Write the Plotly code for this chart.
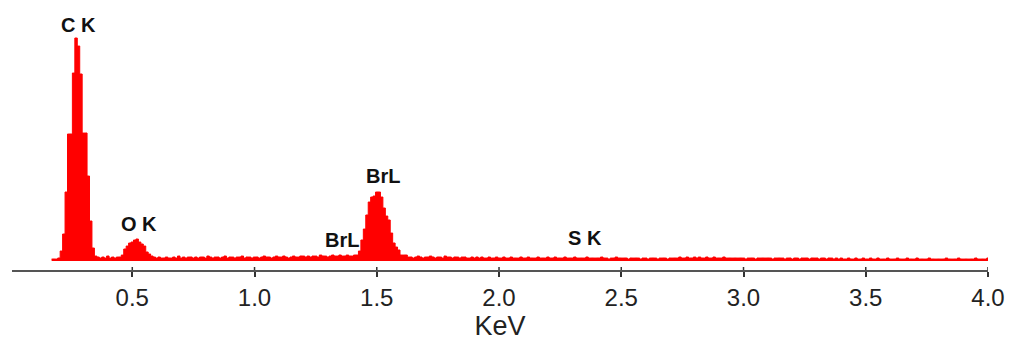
import numpy as np
import plotly.graph_objects as go

# Energy grid (keV): channels of 0.01 keV starting at 0.17 keV
E_START = 0.17
E_STEP = 0.01

# Counts (arbitrary units), 0.17 - 0.99 keV
counts_0 = [
    2, 2, 2, 3,
    10, 27, 69, 127, 127, 188, 223, 215, 187, 128,
    128, 85, 40, 13, 5, 4, 3, 4, 3, 5,
    3, 4, 3, 4, 4, 6, 12, 15, 18, 19,
    21, 22, 19, 17, 15, 9, 7, 5, 4, 3,
    4, 3, 3, 4, 3, 3, 4, 3, 5, 3,
    4, 3, 4, 4, 3, 4, 3, 4, 4, 3,
    5, 4, 3, 4, 4, 3, 4, 5, 3, 4,
    4, 3, 4, 4, 5, 3, 4, 4, 3,
]
# 1.00 - 1.99 keV
counts_1 = [
    4, 4, 3, 4, 5, 4, 4, 3, 4, 5,
    4, 4, 5, 4, 3, 4, 5, 4, 4, 5,
    5, 4, 5, 4, 5, 5, 4, 6, 5, 5,
    4, 5, 6, 5, 5, 6, 5, 5, 6, 5,
    5, 6, 6, 10, 21, 32, 46, 59, 64, 65,
    69, 69, 64, 53, 45, 41, 28, 18, 14, 11,
    6, 6, 6, 4, 4, 3, 4, 5, 4, 3,
    4, 4, 5, 4, 3, 4, 4, 3, 5, 4,
    4, 3, 4, 4, 3, 4, 4, 3, 3, 4,
    3, 4, 3, 4, 3, 3, 4, 3, 3, 4,
]
# 2.00 - 2.99 keV
counts_2 = [
    3, 3, 4, 3, 3, 4, 3, 3, 3, 4,
    3, 3, 4, 3, 3, 3, 4, 3, 3, 3,
    4, 3, 3, 4, 3, 3, 3, 4, 3, 3,
    3, 4, 3, 3, 3, 3, 4, 3, 3, 3,
    3, 3, 4, 3, 3, 2, 3, 3, 4, 3,
    3, 3, 3, 2, 3, 3, 3, 3, 2, 3,
    3, 2, 3, 3, 3, 2, 3, 3, 3, 2,
    3, 3, 3, 3, 4, 3, 3, 4, 3, 3,
    4, 3, 4, 3, 3, 4, 3, 3, 4, 3,
    3, 3, 4, 3, 3, 3, 3, 3, 3, 3,
]
# 3.00 - 4.00 keV
counts_3 = [
    3, 2, 3, 3, 3, 2, 3, 3, 3, 3,
    3, 3, 2, 3, 3, 3, 3, 2, 3, 3,
    2, 3, 3, 2, 3, 3, 3, 2, 3, 3,
    3, 2, 3, 3, 2, 3, 3, 2, 3, 2,
    3, 2, 2, 3, 2, 2, 3, 2, 2, 3,
    2, 2, 3, 2, 2, 3, 2, 2, 2, 3,
    2, 2, 2, 3, 2, 2, 2, 3, 2, 2,
    2, 3, 2, 2, 2, 2, 3, 2, 2, 2,
    2, 2, 2, 3, 2, 2, 2, 2, 3, 2,
    2, 2, 2, 2, 2, 3, 2, 2, 2, 2,
    3,
]

# Peak labels
label_text = ["C K", "O K", "BrL", "BrL", "S K"]
label_energy = [0.282, 0.527, 1.525, 1.356, 2.350]
label_level = [236.5, 37, 85.5, 21, 23]

# Axis ticks
tick_vals = [0.5, 1.0, 1.5, 2.0, 2.5, 3.0, 3.5, 4.0]
tick_text = ["0.5", "1.0", "1.5", "2.0", "2.5", "3.0", "3.5", "4.0"]

counts = counts_0 + counts_1 + counts_2 + counts_3
energy = np.round(E_START + E_STEP * np.arange(len(counts)), 2)

fig = go.Figure()
fig.add_trace(go.Scatter(
    x=energy, y=counts, mode="lines", line_shape="hvh",
    line=dict(color="#ff0000", width=1),
    fill="tozeroy", fillcolor="#ff0000",
    hoverinfo="x+y", showlegend=False,
))

for t, e, lv in zip(label_text, label_energy, label_level):
    fig.add_annotation(
        x=e, y=lv, text=t, showarrow=False, xref="x", yref="y",
        font=dict(family="Liberation Sans, Arial", size=20, color="#111111", weight="bold"),
        xanchor="center", yanchor="middle",
    )

# small upward part of the ticks (ticks cross the axis line)
for v in tick_vals:
    fig.add_shape(type="line", xref="x", yref="y", x0=v, x1=v, y0=-9, y1=-6,
                  line=dict(color="#333333", width=1.5))

fig.update_layout(
    width=1011, height=347,
    margin=dict(l=12, r=23, t=0, b=77),
    paper_bgcolor="white", plot_bgcolor="white",
    font=dict(family="Liberation Sans, Arial", color="#222222"),
    xaxis=dict(
        range=[0.008, 4.0], tickvals=tick_vals, ticktext=tick_text,
        ticks="outside", ticklen=5, tickwidth=1.5, tickcolor="#333333",
        showline=True, linecolor="#555555", linewidth=1.5,
        showgrid=False, zeroline=False,
        tickfont=dict(size=24, color="#222222"),
        title=dict(text="KeV", font=dict(size=27, color="#222222"), standoff=5),
    ),
    yaxis=dict(range=[-9, 261], visible=False, fixedrange=True),
)

fig.write_html("out.html")
